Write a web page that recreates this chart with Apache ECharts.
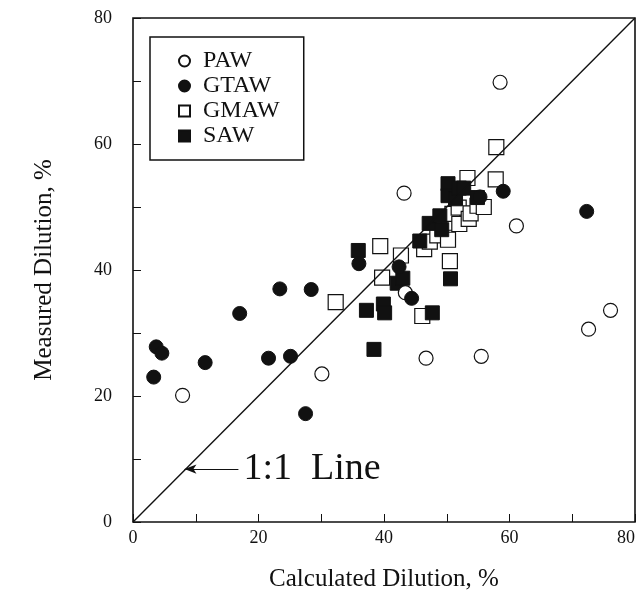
<!DOCTYPE html>
<html lang="en">
<head>
  <meta charset="UTF-8">
  <title>Dilution</title>
  <style>
    html,body { width:100%; height:100%; margin:0; background:#fff; }
  </style>
</head>
<body>
  <div id="chart" style="width:639px;height:602px"></div>
  <script src="https://cdn.jsdelivr.net/npm/echarts@6/dist/echarts.min.js"></script>
  <script>
    // calculated vs measured dilution, %
    var paw = [[7.9,20.1],[30.1,23.5],[43.2,52.2],[43.4,36.4],[46.7,26.0],[55.5,26.3],[58.5,69.8],[61.1,47.0],[72.6,30.6],[76.1,33.6]];
    var gtaw = [[3.3,23.0],[3.7,27.8],[4.6,26.8],[11.5,25.3],[17.0,33.1],[21.6,26.0],[23.4,37.0],[25.1,26.3],[27.5,17.2],[28.4,36.9],[36.0,41.0],[42.4,40.5],[44.4,35.5],[55.3,51.6],[59.0,52.5],[72.3,49.3]];
    var gmaw = [[32.3,34.9],[39.4,43.8],[39.7,38.8],[42.7,42.3],[46.1,32.7],[46.4,43.3],[47.3,44.5],[48.5,45.5],[50.2,44.8],[50.5,41.4],[50.3,47.5],[50.9,48.9],[51.9,49.9],[52.0,47.3],[53.5,48.1],[53.8,49.0],[53.3,54.6],[54.9,50.2],[55.9,50.0],[57.8,54.4],[57.9,59.5]];
    var saw = [[35.9,43.1],[37.2,33.6],[38.4,27.4],[39.9,34.6],[40.1,33.2],[42.1,37.9],[43.0,38.7],[45.7,44.6],[47.2,47.4],[47.7,33.2],[48.9,48.6],[49.2,46.4],[50.2,53.7],[50.2,51.8],[50.6,38.6],[51.4,51.3],[52.0,53.0],[52.7,53.0],[54.9,51.5]];
    var oneToOne = [[0,0],[80,80]];
    var arrowFrom = [16.8, 8.4], arrowTo = [8.2, 8.4];

    var serif = '"Liberation Serif", "DejaVu Serif", serif';
    var myChart = echarts.init(document.getElementById('chart'));

    function axis(name, gap, rot) {
      return {
        type: 'value', min: 0, max: 80, interval: 10,
        name: name, nameLocation: 'middle', nameGap: gap, nameRotate: rot,
        nameTextStyle: { fontFamily: serif, fontSize: 25, color: '#111' },
        axisLine: { show: false },
        axisTick: { show: true, inside: true, length: 8, lineStyle: { color: '#111', width: 1 } },
        splitLine: { show: false },
        axisLabel: {
          fontFamily: serif, fontSize: 18, color: '#111', margin: rot ? 21 : 7,
          alignMaxLabel: rot ? null : 'right',
          formatter: function (v) { return v % 20 === 0 ? v : ''; }
        }
      };
    }

    var open = { color: '#fff', borderColor: '#111', borderWidth: 1.2, opacity: 1 };
    var fill = { color: '#111', borderColor: '#111', borderWidth: 1, opacity: 1 };

    var option = {
      backgroundColor: '#fff',
      animation: false,
      grid: {
        left: 133, top: 18, width: 502, height: 504, outerBoundsMode: 'none', containLabel: false,
        show: true, borderColor: '#111', borderWidth: 1.6, backgroundColor: 'transparent'
      },
      xAxis: axis('Calculated Dilution, %', 45, 0),
      yAxis: axis('Measured Dilution, %', 76, 90),
      legend: {
        orient: 'vertical', left: 150, top: 37,
        padding: [12, 24, 12, 28],
        itemGap: 1, itemWidth: 11, itemHeight: 11,
        borderColor: '#111', borderWidth: 1.5,
        textStyle: { fontFamily: serif, fontSize: 24, lineHeight: 22, color: '#111', padding: [0, 0, 0, 8] },
        data: [
          { name: 'PAW', icon: 'circle' },
          { name: 'GTAW', icon: 'circle' },
          { name: 'GMAW', icon: 'rect' },
          { name: 'SAW', icon: 'rect' }
        ]
      },
      series: [
        {
          type: 'line', data: oneToOne, symbol: 'none', silent: true,
          lineStyle: { color: '#111', width: 1.4 },
          markLine: {
            silent: true, symbol: ['none', 'arrow'], symbolSize: [7, 12],
            lineStyle: { color: '#111', width: 1, type: 'solid' },
            label: { show: true, position: 'start', formatter: '1:1  Line', fontFamily: serif, fontSize: 38, color: '#111', distance: 5 },
            data: [[{ coord: arrowFrom }, { coord: arrowTo }]]
          }
        },
        { name: 'GMAW', type: 'scatter', symbol: 'rect', symbolSize: 15, data: gmaw, itemStyle: open },
        { name: 'SAW', type: 'scatter', symbol: 'rect', symbolSize: 14, data: saw, itemStyle: fill },
        { name: 'PAW', type: 'scatter', symbol: 'circle', symbolSize: 14, data: paw, itemStyle: open },
        { name: 'GTAW', type: 'scatter', symbol: 'circle', symbolSize: 14, data: gtaw, itemStyle: fill }
      ]
    };

    myChart.setOption(option);
  </script>
</body>
</html>
